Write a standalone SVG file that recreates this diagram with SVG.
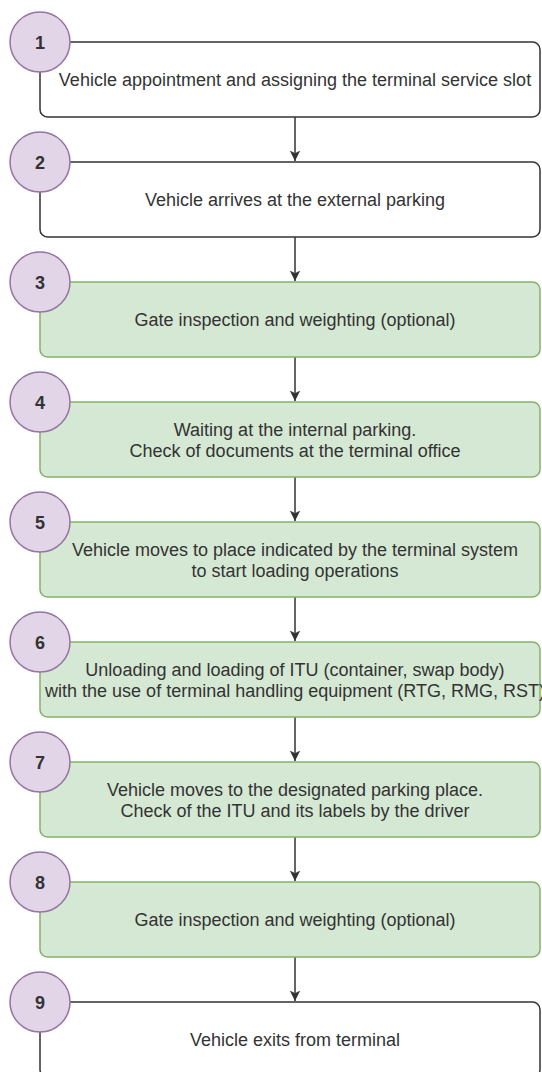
<svg xmlns="http://www.w3.org/2000/svg" width="542" height="1072" viewBox="0 0 542 1072">
  <style>
    .box-plain { fill: #ffffff; stroke: #333333; stroke-width: 1.5; }
    .box-green { fill: #d5e8d4; stroke: #82b366; stroke-width: 1.5; }
    .badge { fill: #e1d5e7; stroke: #9673a6; stroke-width: 1.5; }
    .num { font-family: "Liberation Sans", Arial, sans-serif; font-size: 18px; font-weight: bold; fill: #333333; text-anchor: middle; }
    .label { font-family: "Liberation Sans", Arial, sans-serif; font-size: 18px; fill: #333333; text-anchor: middle; }
    .link { stroke: #333333; stroke-width: 1.5; fill: none; }
  </style>
  <defs>
    <marker id="arrow" viewBox="0 0 10 10" refX="10" refY="5" markerWidth="7" markerHeight="7" markerUnits="strokeWidth" orient="auto">
      <path d="M0,0 L10,5 L0,10 L2.5,5 Z" fill="#333333"/>
    </marker>
  </defs>
  <rect width="542" height="1072" fill="#ffffff"/>

  <!-- connectors between consecutive steps -->
  <g id="connectors">
    <line class="link" x1="295" y1="117" x2="295" y2="161" marker-end="url(#arrow)"/>
    <line class="link" x1="295" y1="237" x2="295" y2="281" marker-end="url(#arrow)"/>
    <line class="link" x1="295" y1="357" x2="295" y2="401" marker-end="url(#arrow)"/>
    <line class="link" x1="295" y1="477" x2="295" y2="521" marker-end="url(#arrow)"/>
    <line class="link" x1="295" y1="597" x2="295" y2="641" marker-end="url(#arrow)"/>
    <line class="link" x1="295" y1="717" x2="295" y2="761" marker-end="url(#arrow)"/>
    <line class="link" x1="295" y1="837" x2="295" y2="881" marker-end="url(#arrow)"/>
    <line class="link" x1="295" y1="957" x2="295" y2="1001" marker-end="url(#arrow)"/>
  </g>

  <g id="step1">
    <rect class="box-plain" x="40" y="42" width="500" height="75" rx="7.5"/>
    <text class="label" x="295" y="86">Vehicle appointment and assigning the terminal service slot</text>
    <circle class="badge" cx="40" cy="42" r="30"/>
    <text class="num" x="40" y="48.5">1</text>
  </g>

  <g id="step2">
    <rect class="box-plain" x="40" y="162" width="500" height="75" rx="7.5"/>
    <text class="label" x="295" y="206">Vehicle arrives at the external parking</text>
    <circle class="badge" cx="40" cy="162" r="30"/>
    <text class="num" x="40" y="168.5">2</text>
  </g>

  <g id="step3">
    <rect class="box-green" x="40" y="282" width="500" height="75" rx="7.5"/>
    <text class="label" x="295" y="326">Gate inspection and weighting (optional)</text>
    <circle class="badge" cx="40" cy="282" r="30"/>
    <text class="num" x="40" y="288.5">3</text>
  </g>

  <g id="step4">
    <rect class="box-green" x="40" y="402" width="500" height="75" rx="7.5"/>
    <text class="label" x="295" y="435.5">Waiting at the internal parking.</text>
    <text class="label" x="295" y="456.5">Check of documents at the terminal office</text>
    <circle class="badge" cx="40" cy="402" r="30"/>
    <text class="num" x="40" y="408.5">4</text>
  </g>

  <g id="step5">
    <rect class="box-green" x="40" y="522" width="500" height="75" rx="7.5"/>
    <text class="label" x="295" y="555.5">Vehicle moves to place indicated by the terminal system</text>
    <text class="label" x="295" y="576.5">to start loading operations</text>
    <circle class="badge" cx="40" cy="522" r="30"/>
    <text class="num" x="40" y="528.5">5</text>
  </g>

  <g id="step6">
    <rect class="box-green" x="40" y="642" width="500" height="75" rx="7.5"/>
    <text class="label" x="295" y="675.5">Unloading and loading of ITU (container, swap body)</text>
    <text class="label" x="295" y="696.5">with the use of terminal handling equipment (RTG, RMG, RST)</text>
    <circle class="badge" cx="40" cy="642" r="30"/>
    <text class="num" x="40" y="648.5">6</text>
  </g>

  <g id="step7">
    <rect class="box-green" x="40" y="762" width="500" height="75" rx="7.5"/>
    <text class="label" x="295" y="795.5">Vehicle moves to the designated parking place.</text>
    <text class="label" x="295" y="816.5">Check of the ITU and its labels by the driver</text>
    <circle class="badge" cx="40" cy="762" r="30"/>
    <text class="num" x="40" y="768.5">7</text>
  </g>

  <g id="step8">
    <rect class="box-green" x="40" y="882" width="500" height="75" rx="7.5"/>
    <text class="label" x="295" y="926">Gate inspection and weighting (optional)</text>
    <circle class="badge" cx="40" cy="882" r="30"/>
    <text class="num" x="40" y="888.5">8</text>
  </g>

  <g id="step9">
    <rect class="box-plain" x="40" y="1002" width="500" height="75" rx="7.5"/>
    <text class="label" x="295" y="1046">Vehicle exits from terminal</text>
    <circle class="badge" cx="40" cy="1002" r="30"/>
    <text class="num" x="40" y="1008.5">9</text>
  </g>
</svg>
